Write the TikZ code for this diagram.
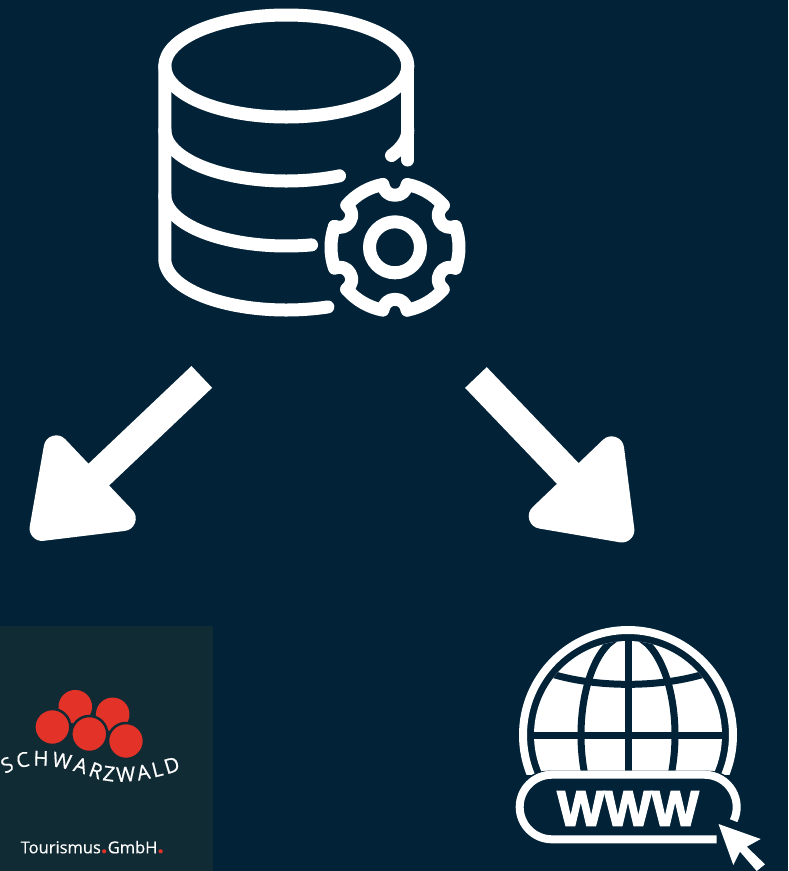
\documentclass[tikz,border=0pt]{standalone}
\usepackage{fontspec}
\setmainfont{Liberation Sans}
\newfontfamily\logofont[FakeBold=0.6]{Open Sans}
\newfontfamily\tourfont[FakeBold=0.3]{Open Sans}
\newfontfamily\dotfont{Open Sans}
\newfontfamily\wwwfont[FakeBold=3]{Liberation Sans Bold}
\usetikzlibrary{arrows.meta, calc, decorations.text}
\definecolor{nightblue}{RGB}{2,35,55}
\definecolor{logopanelbg}{RGB}{17,43,53}
\definecolor{logored}{RGB}{227,50,40}
\newcommand{\reddot}{{\dotfont\bfseries\fontsize{24pt}{24pt}\selectfont\color{logored}.}}
\tikzset{
    iconline/.style={draw=white, line width=13pt, line cap=round, line join=round},
    gridline/.style={draw=nightblue, line width=7pt},
    bigarrow/.style={draw=white, line width=30pt, -{Triangle[length=100pt, width=140pt, round, line width=30pt, fill=white]}},
    logopanel/.style={rectangle, fill=logopanelbg, minimum width=213pt, minimum height=245pt, inner sep=0pt},
    berry/.style={circle, fill=logored, minimum size=33.5pt, inner sep=0pt},
    frontberry/.style={berry, draw=logopanelbg, line width=2.5pt, minimum size=36pt},
}

\begin{document}
\begin{tikzpicture}[x=1pt, y=-1pt]
        \fill[nightblue] (0,0) rectangle (788,871);
        \useasboundingbox (0,0) rectangle (788,871);

        \draw[iconline] (286.3,66) ellipse [x radius=121.5pt, y radius=51pt];
        \draw[iconline] (164.8,66) -- (164.8,259) arc[start angle=180, end angle=290, x radius=121.5pt, y radius=51pt];
        \draw[iconline] (164.8,130) arc[start angle=180, end angle=296, x radius=121.5pt, y radius=51pt];
        \draw[iconline] (164.8,195) arc[start angle=180, end angle=282, x radius=121.5pt, y radius=51pt];
        \draw[iconline] (407.8,66) -- (407.8,160);
        \draw[iconline] (407.8,130) arc[start angle=360, end angle=330, x radius=121.5pt, y radius=51pt];

        \begin{scope}[shift={(395,247.3)}]
            \draw[iconline] (0,0) circle (25.5pt);
            \foreach \n in {90,150,...,390}
                \draw[iconline] (\n-49:64pt) arc[start angle=\n-49, end angle=\n-11, radius=64pt]
                    .. controls (\n-11:57.4pt) and (\n-7.3:52.3pt) .. (\n:52pt)
                    .. controls (\n+7.3:52.3pt) and (\n+11:57.4pt) .. (\n+11:64pt);
        \end{scope}

        \coordinate (dbleft) at (201.8,376.9);
        \coordinate (logotop) at (33,537);
        \coordinate (dbright) at (475.9,377.5);
        \coordinate (globetop) at (630.5,539);
        \draw[bigarrow] (dbleft) -- (logotop);
        \draw[bigarrow] (dbright) -- (globetop);

        \node[logopanel] (logo) at (106.5,748.5) {};
        \node[berry] (berryA) at (75.3,706.7) {};
        \node[berry] (berryB) at (112.7,714.3) {};
        \node[frontberry] (berryC) at (52.3,727) {};
        \node[frontberry] (berryD) at (89.3,734) {};
        \node[frontberry] (berryE) at (126,741) {};
        \path[decorate, decoration={text along path, text align={fit to path},
            text={|\logofont\fontsize{20.5pt}{20.5pt}\selectfont\color{white}|SCHWARZWALD}}]
            (5,774) .. controls (30,760) and (60,765) .. (95,778) .. controls (120,786) and (150,780) .. (181,770);
        \node[anchor=base west, inner sep=0pt, text=white, font=\tourfont\fontsize{16.5pt}{16.5pt}\selectfont] (tourism) at (20.5,853.3)
            {Tourismus\reddot GmbH\reddot};

        \coordinate (globe) at (628,735);
        \draw[draw=white, line width=8pt] (globe) circle (105pt);
        \fill[white] (globe) circle (94pt);
        \begin{scope}
            \clip (globe) circle (94pt);
            \draw[gridline] (globe) ellipse [x radius=47pt, y radius=100pt];
            \draw[gridline] (528,735) -- (728,735);
            \draw[gridline] (628,630) -- (628,800);
            \draw[gridline] (540,670) .. controls (590,689.1) and (666,689.1) .. (716,670);
        \end{scope}

        \fill[nightblue] (519.7,774.7) rectangle (736.7,845);
        \fill[nightblue, rounded corners=32pt] (515.7,770.7) rectangle (740.7,843.3);
        \draw[draw=white, line width=8pt] (716.7,839.3) -- (552,839.3) arc[start angle=270, end angle=90, radius=32.3pt]
            -- (704.4,774.7) arc[start angle=90, end angle=-25, radius=32.3pt];
        \node[inner sep=0pt, text=white, font=\wwwfont\fontsize{50pt}{50pt}\selectfont] (wwwlabel) at (628,808.5) {WWW};
        \fill[white] (718.5,824) -- (760.7,839) -- (746.7,846.7) -- (765,864.3) -- (756.7,871) -- (740,851.7) -- (733.3,865) -- cycle;
\end{tikzpicture}
\end{document}
